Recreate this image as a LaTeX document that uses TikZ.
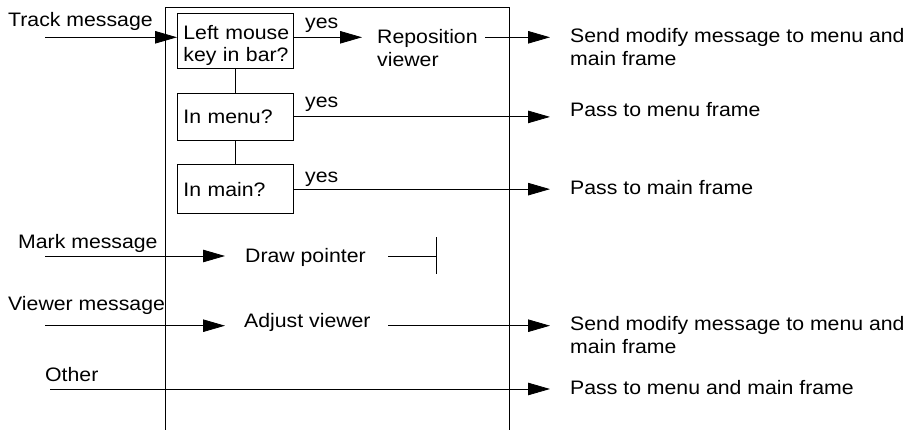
\documentclass[tikz,border=0pt]{standalone}
\usepackage{fontspec}
\setmainfont{Liberation Sans}[FakeStretch=1.09]
\usetikzlibrary{arrows.meta}
\begin{document}
\begin{tikzpicture}[x=1pt,y=-1pt,
  txt/.style={font=\fontsize{19.5}{23.5}\selectfont, inner sep=0pt, anchor=base west},
  mtxt/.style={font=\fontsize{19.5}{23.5}\selectfont, inner sep=0pt, anchor=north west, align=left},
  qbox/.style={draw, line width=0.8pt, font=\fontsize{19.5}{22}\selectfont, anchor=north west,
    align=left, text width=104pt, inner xsep=6pt, inner ysep=0pt},
  ln/.style={line width=0.8pt},
  arr/.style={ln, -{Triangle[length=22pt,width=12.5pt]}}]
\useasboundingbox (0,0) rectangle (914,430);

% frame
\draw[ln] (165,430) -- (165,7.3) -- (509,7.3) -- (509,430);

% helper x for right-hand arrow tips
\coordinate (tipx) at (550,0);

% decision boxes
\node[qbox, minimum height=55.6pt] (b1) at (177,12.7) {\rule{0pt}{24pt}\mbox{Left mouse}\\\mbox{key in bar?}};
\node[qbox, minimum height=47pt] (b2) at (177,93) {In menu?};
\node[qbox, minimum height=48.5pt] (b3) at (177,164.5) {In main?};
\draw[ln] (b1) -- (b2);
\draw[ln] (b2) -- (b3);

% track message
\node[txt] (tm) at (8,27) {Track message};
\coordinate (tin) at (45,37.3);
\draw[arr] (tin) -- (tin -| b1.west);
\node[txt] (y1) at (305,28.5) {yes};
\node[mtxt] (rep) at (377,28.8) {Reposition\\viewer};
\draw[arr, shorten >=15pt] (b1.east |- tin) -- (rep.west |- tin);
\node[mtxt] (sm1) at (570,27.8) {Send modify message to menu and\\main frame};
\coordinate (rout) at (485,37.3);
\draw[arr, shorten >=20pt] (rout) -- (sm1.west |- tin);

% in menu / in main
\node[txt] (y2) at (305,108) {yes};
\node[txt] (pm) at (570,117) {Pass to menu frame};
\draw[arr] (b2.east) -- (b2.east -| tipx);
\node[txt] (y3) at (305,183) {yes};
\node[txt] (pmain) at (570,195) {Pass to main frame};
\draw[arr] (b3.east) -- (b3.east -| tipx);

% mark message
\node[txt] (mm) at (18,249) {Mark message};
\node[txt] (dp) at (245,262.3) {Draw pointer};
\coordinate (min) at (45,256);
\draw[arr, shorten >=20pt] (min) -- (dp.west |- min);
\coordinate (dout) at (388,256);
\coordinate (dend) at (437,256);
\draw[ln, -{Bar[width=37pt]}] (dout) -- (dend);

% viewer message
\node[txt] (vm) at (8,310.7) {Viewer message};
\node[txt] (av) at (244,327.3) {Adjust viewer};
\coordinate (vin) at (45,325.7);
\draw[arr, shorten >=19pt] (vin) -- (av.west |- vin);
\node[mtxt] (sm2) at (570,316) {Send modify message to menu and\\main frame};
\coordinate (aout) at (388,325.7);
\draw[arr, shorten >=20pt] (aout) -- (sm2.west |- aout);

% other
\node[txt] (ot) at (45,381.7) {Other};
\node[txt] (pmm) at (570,395) {Pass to menu and main frame};
\coordinate (oin) at (50,389);
\draw[arr, shorten >=20pt] (oin) -- (pmm.west |- oin);
\end{tikzpicture}
\end{document}
